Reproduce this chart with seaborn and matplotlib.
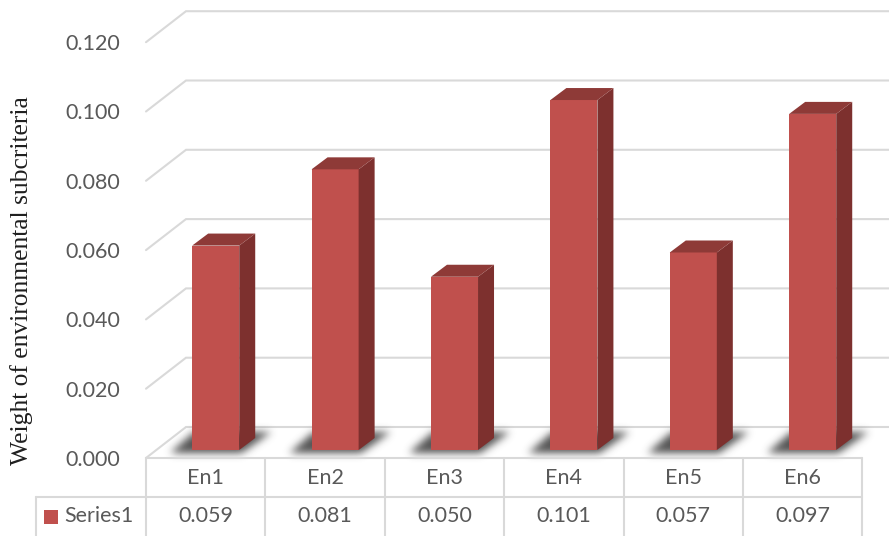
import numpy as np
import pandas as pd
import seaborn as sns
import matplotlib
matplotlib.use("Agg")
import matplotlib.pyplot as plt
from matplotlib.path import Path
from matplotlib.patches import Polygon, Rectangle

categories = ["En1", "En2", "En3", "En4", "En5", "En6"]
weights = [0.059, 0.081, 0.050, 0.101, 0.057, 0.097]
y_ticks = [0.000, 0.020, 0.040, 0.060, 0.080, 0.100, 0.120]
series_name = "Series1"
y_title = "Weight of environmental subcriteria"

W, H, DPI = 889, 536, 100
FRONT_RED = "#C0504D"
SIDE_RED = "#7D302E"
TOP_RED = "#8E3A37"
GRID = "#D9D9D9"
TEXT = "#595959"

# oblique depth offsets in pixels (dx right, dy up)
DEPTH_FRONT = (-10, -8)   # bar plane -> front edge of the floor
DEPTH_BACK = (30, 23)     # bar plane -> back wall
BAR_DEPTH = (16, 12)      # thickness of each bar

sns.set_theme(style="white")
plt.rcParams["font.family"] = ["Lato", "DejaVu Sans"]

fig = plt.figure(figsize=(W / DPI, H / DPI), dpi=DPI)
fig.patch.set_facecolor("white")

# pixel-space layers: background (walls, shadows, table) and foreground (bar sides)
bg = fig.add_axes([0, 0, 1, 1], zorder=0)
bg.set_xlim(0, W); bg.set_ylim(0, H); bg.axis("off")

y_scale = 3465.0          # pixels per unit of weight
ax_left, ax_bottom, slot = 156, 86, 119.4
ax = fig.add_axes([ax_left / W, ax_bottom / H, 6 * slot / W, 0.12 * y_scale / H], zorder=1)
df = pd.DataFrame({"Criterion": categories, "Weight": weights})
sns.barplot(data=df, x="Criterion", y="Weight", color=FRONT_RED, saturation=1,
            width=0.394, linewidth=0, ax=ax)
ax.set_xlim(-0.5, 5.5)
ax.set_ylim(0, 0.12)
ax.axis("off")

fg = fig.add_axes([0, 0, 1, 1], zorder=2)
fg.set_xlim(0, W); fg.set_ylim(0, H); fg.axis("off")

to_px = ax.transData.transform

# back wall gridlines with the left wall diagonal
for v in y_ticks:
    x0, y0 = to_px((-0.5, v))
    fx, fy = x0 + DEPTH_FRONT[0], y0 + DEPTH_FRONT[1]
    bx, by = x0 + DEPTH_BACK[0], y0 + DEPTH_BACK[1]
    bg.plot([fx, bx, W], [fy, by, by], color=GRID, lw=1.5,
            solid_joinstyle="miter", zorder=1)
    bg.text(fx - 26, fy - 2, f"{v:.3f}", ha="right", va="center",
            fontsize=15.5, color=TEXT)

# soft floor shadows under the bars
bars = list(ax.patches)
yy, xx = np.mgrid[0:H, 0:W]
pts = np.column_stack([xx.ravel() + 0.5, yy.ravel() + 0.5])
mask = np.zeros(H * W)
for p in bars:
    xl = p.get_x(); xr = xl + p.get_width()
    (lx, by), (rx, _) = to_px([(xl, 0), (xr, 0)])
    dx, dy = BAR_DEPTH
    poly = [(lx - 22, by - 3), (rx + 2, by - 3),
            (rx + dx + 16, by + dy + 6), (lx + 2, by + dy + 6)]
    mask = np.maximum(mask, Path(poly).contains_points(pts).astype(float))
mask = mask.reshape(H, W)
sig = 4.0
k = np.arange(-14, 15)
kern = np.exp(-0.5 * (k / sig) ** 2); kern /= kern.sum()
blur = np.apply_along_axis(lambda r: np.convolve(r, kern, mode="same"), 1, mask)
blur = np.apply_along_axis(lambda c: np.convolve(c, kern, mode="same"), 0, blur)
img = np.zeros((H, W, 4))
img[..., :3] = 0.2
img[..., 3] = 0.85 * blur
bg.imshow(img, extent=(0, W, 0, H), origin="lower", interpolation="bilinear",
          zorder=2, aspect="auto")
bg.set_xlim(0, W); bg.set_ylim(0, H)

# side and top faces of each bar
for p in bars:
    xl = p.get_x(); xr = xl + p.get_width(); h = p.get_height()
    (lx, by), (rx, ty) = to_px([(xl, 0), (xr, h)])
    dx, dy = BAR_DEPTH
    side = [(rx, by), (rx + dx, by + dy), (rx + dx, ty + dy), (rx, ty)]
    top = [(lx, ty), (rx, ty), (rx + dx, ty + dy), (lx + dx, ty + dy)]
    fg.add_patch(Polygon(side, closed=True, facecolor=SIDE_RED, edgecolor="none"))
    fg.add_patch(Polygon(top, closed=True, facecolor=TOP_RED, edgecolor="none"))

# data table under the floor
x_edges = [to_px((i - 0.5, 0))[0] + DEPTH_FRONT[0] for i in range(len(categories) + 1)]
table_top = to_px((0, 0))[1] + DEPTH_FRONT[1]
row_h = 39
legend_left = 36
bg.plot([x_edges[0], x_edges[-1]], [table_top, table_top], color=GRID, lw=1.5, zorder=3)
bg.plot([legend_left, x_edges[-1]], [table_top - row_h] * 2, color=GRID, lw=1.5, zorder=3)
for xe in x_edges:
    bg.plot([xe, xe], [table_top, 0], color=GRID, lw=1.5, zorder=3)
bg.plot([legend_left, legend_left], [table_top - row_h, 0], color=GRID, lw=1.5, zorder=3)

for i, (cat, w) in enumerate(zip(categories, weights)):
    cx = (x_edges[i] + x_edges[i + 1]) / 2
    bg.text(cx, table_top - row_h / 2, cat, ha="center", va="center",
            fontsize=15.5, color=TEXT, zorder=4)
    bg.text(cx, table_top - 1.5 * row_h, f"{w:.3f}", ha="center", va="center",
            fontsize=15.5, color=TEXT, zorder=4)

row2_y = table_top - 1.5 * row_h
bg.add_patch(Rectangle((legend_left + 8, row2_y - 7), 14, 14, facecolor=FRONT_RED,
                       edgecolor="none", zorder=4))
bg.text(legend_left + 28, row2_y, series_name, ha="left", va="center",
        fontsize=15.5, color=TEXT, zorder=4)

# rotated axis title
bg.text(22, H - 281, y_title, rotation=90, ha="center", va="center",
        fontsize=18.4, color="#1F1F1F", family=["Liberation Serif", "DejaVu Serif"])

fig.savefig("out.png", dpi=DPI, facecolor="white")
